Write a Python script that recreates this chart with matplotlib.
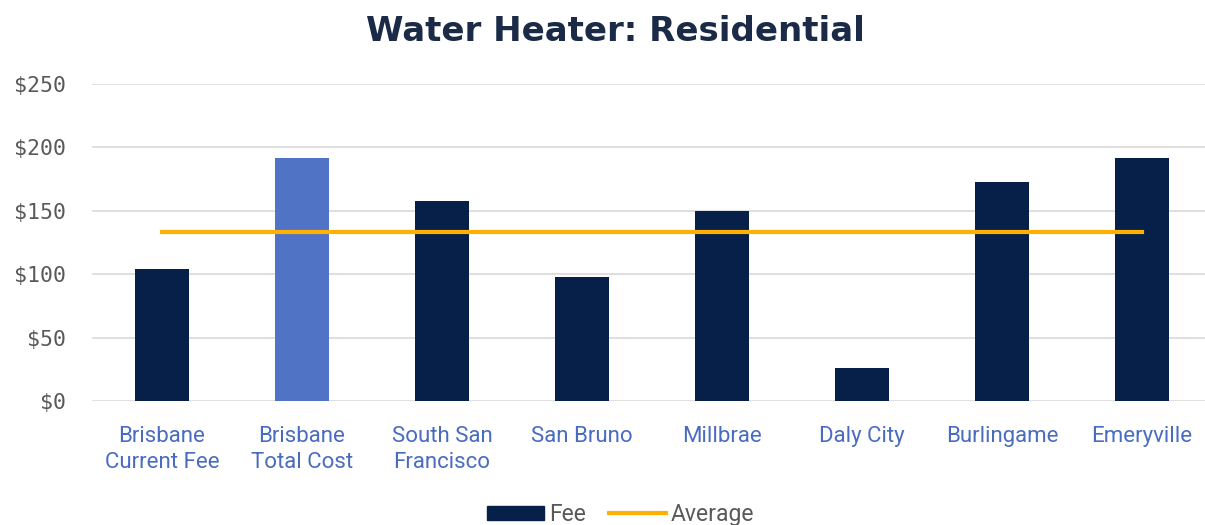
import matplotlib.pyplot as plt
from matplotlib.lines import Line2D
from matplotlib.patches import Patch
from matplotlib.ticker import FuncFormatter

categories = ["Brisbane\nCurrent Fee", "Brisbane\nTotal Cost", "South San\nFrancisco",
              "San Bruno", "Millbrae", "Daly City", "Burlingame", "Emeryville"]
fees = [104, 192, 158, 98, 150, 26, 173, 192]
average = 133
yticks = [0, 50, 100, 150, 200, 250]

NAVY = "#06204a"
LIGHT = "#5073c5"
ORANGE = "#ffb000"

fig = plt.figure(figsize=(12.05, 5.25), dpi=100)
ax = fig.add_axes([0.0764, 0.236, 0.9294, 0.604])

x = list(range(len(categories)))
colors = [LIGHT if i == 1 else NAVY for i in x]
ax.bar(x, fees, width=0.39, color=colors, zorder=2)
ax.plot([x[0], x[-1]], [average, average], color=ORANGE, lw=3, zorder=3)

ax.set_xlim(-0.5, len(categories) - 0.5)
ax.set_ylim(0, 250)
ax.set_yticks(yticks)
ax.yaxis.set_major_formatter(FuncFormatter(lambda v, p: f"${v:.0f}"))
ax.grid(axis="y", color="#d9d9d9", lw=1.2, zorder=0)
for s in ax.spines.values():
    s.set_visible(False)
ax.tick_params(length=0)
ax.tick_params(axis="y", pad=19)
ax.tick_params(axis="x", pad=18)

ax.set_xticks(x)
ax.set_xticklabels(categories, fontfamily="Roboto", fontsize=16, color="#4a6cc0",
                   linespacing=1.32)
for lab in ax.get_yticklabels():
    lab.set_fontfamily("DejaVu Sans Mono")
    lab.set_fontsize(15.5)
    lab.set_color("#595959")

fig.text(0.511, 0.94, "Water Heater: Residential", ha="center", va="center",
         fontsize=24.5, fontweight="bold", fontfamily="DejaVu Sans", color="#1b2a47")

handles = [Patch(color=NAVY, label="Fee"),
           Line2D([0], [0], color=ORANGE, lw=3, label="Average")]
fig.legend(handles=handles, loc="center", bbox_to_anchor=(0.515, 0.02), ncol=2,
           frameon=False, prop={"family": "Roboto", "size": 16.5}, labelcolor="#595959",
           handlelength=2.5, handleheight=0.55, columnspacing=1.0, handletextpad=0.2)

fig.savefig("out.png", dpi=100)
